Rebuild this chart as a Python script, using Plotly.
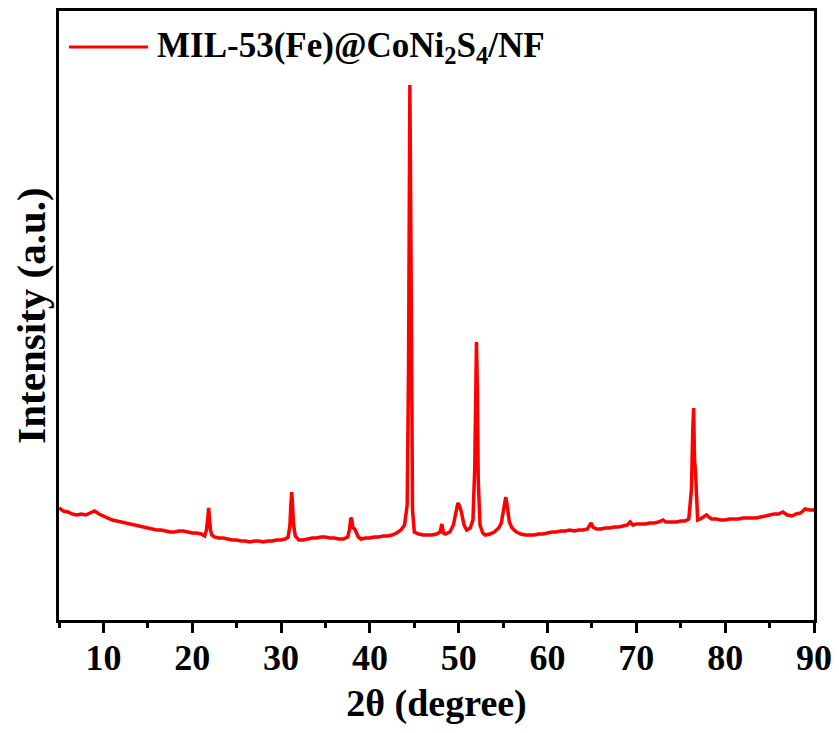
import plotly.graph_objects as go

two_theta = [
    5.0, 5.5, 6.0, 6.5, 7.0, 7.5, 8.0, 8.5, 9.0, 9.5, 10.0, 10.5, 11.0, 11.5, 12.0, 12.5,
    13.0, 13.5, 14.0, 14.5, 15.0, 15.5, 16.0, 16.5, 17.0, 17.5, 18.0, 18.5, 19.0, 19.5,
    20.0, 20.5, 21.0, 21.4, 21.6, 21.75, 21.85, 21.95, 22.05, 22.2, 22.5, 23.0, 23.5,
    24.0, 24.5, 25.0, 25.5, 26.0, 26.5, 27.0, 27.5, 28.0, 28.5, 29.0, 29.5, 30.0, 30.5,
    30.8, 31.0, 31.1, 31.2, 31.3, 31.4, 31.6, 32.0, 32.5, 33.0, 33.5, 34.0, 34.5, 35.0,
    35.5, 36.0, 36.5, 37.0, 37.5, 37.7, 37.85, 37.95, 38.1, 38.3, 38.45, 38.7, 39.0, 39.5,
    40.0, 40.5, 41.0, 41.5, 42.0, 42.5, 43.0, 43.5, 43.9, 44.2, 44.35, 44.45, 44.5, 44.55,
    44.65, 44.8, 45.0, 45.5, 46.0, 46.5, 47.0, 47.5, 47.9, 48.1, 48.3, 48.5, 49.0, 49.4,
    49.7, 49.9, 50.1, 50.3, 50.6, 50.9, 51.3, 51.6, 51.8, 51.9, 52.0, 52.1, 52.2, 52.4,
    52.7, 53.0, 53.5, 54.0, 54.5, 54.8, 55.0, 55.2, 55.3, 55.45, 55.7, 56.0, 56.5, 57.0,
    57.5, 58.0, 58.5, 59.0, 59.5, 60.0, 60.5, 61.0, 61.5, 62.0, 62.5, 63.0, 63.5, 64.0,
    64.5, 64.9, 65.1, 65.5, 66.0, 66.5, 67.0, 67.5, 68.0, 68.5, 69.0, 69.3, 69.6, 70.0,
    70.5, 71.0, 71.5, 72.0, 72.5, 73.0, 73.3, 73.5, 74.0, 74.5, 75.0, 75.5, 75.9, 76.2,
    76.35, 76.45, 76.55, 76.65, 76.75, 76.9, 77.2, 77.5, 77.9, 78.3, 78.5, 79.0, 79.5,
    80.0, 80.5, 81.0, 81.5, 82.0, 82.5, 83.0, 83.5, 84.0, 84.5, 85.0, 85.5, 86.0, 86.5,
    87.0, 87.5, 88.0, 88.5, 89.0, 89.5, 90.0,
]
intensity = [
    112, 109, 108, 106, 105, 106, 105, 107, 109, 106, 104, 102, 100, 99, 98, 97,
    96, 95, 94, 93, 92, 91, 90, 90, 89, 88, 88, 89, 89, 88,
    87, 87, 86, 84, 90, 102, 112, 100, 90, 85, 83, 82, 82,
    81, 80, 80, 79, 79, 78, 79, 79, 78, 79, 79, 80, 80, 81,
    83, 95, 115, 128, 114, 96, 84, 80, 80, 81, 82, 82, 83, 83,
    82, 82, 81, 81, 83, 90, 102, 101, 92, 91, 88, 83, 81, 82,
    82, 83, 83, 84, 84, 85, 87, 90, 95, 115, 250, 480, 535, 480,
    260, 110, 88, 86, 85, 85, 85, 86, 88, 96, 87, 86, 88, 95,
    110, 117, 114, 108, 95, 90, 92, 100, 150, 240, 278, 230, 140, 95,
    87, 85, 86, 88, 92, 97, 108, 120, 123, 115, 98, 92, 88, 86,
    85, 85, 85, 86, 86, 87, 88, 88, 89, 89, 90, 89, 90, 90,
    91, 97, 93, 91, 91, 92, 92, 93, 93, 94, 95, 98, 95, 96,
    96, 96, 97, 97, 98, 100, 98, 98, 98, 98, 99, 99, 101, 130,
    190, 212, 160, 150, 130, 100, 101, 103, 105, 102, 101, 101, 100,
    100, 101, 101, 101, 102, 102, 102, 102, 103, 104, 105, 106, 106, 108,
    105, 104, 106, 107, 111, 110, 110,
]

x_ticks = [10, 20, 30, 40, 50, 60, 70, 80, 90]
series_name = "MIL-53(Fe)@CoNi<sub>2</sub>S<sub>4</sub>/NF"

FONT = "Liberation Serif"

fig = go.Figure()
fig.add_trace(go.Scatter(
    x=two_theta, y=intensity, mode="lines", name=series_name,
    line=dict(color="#ff0000", width=3.5), showlegend=False,
))

# page body has an 8px margin, so the figure is sized to fit inside the window
fig.update_layout(
    width=831, height=717,
    margin=dict(l=51, r=25, t=3, b=105),
    paper_bgcolor="white", plot_bgcolor="white",
    font=dict(family=FONT, color="black"),
)
fig.update_xaxes(
    range=[5, 90], tickvals=x_ticks, ticks="outside", ticklen=10, tickwidth=3,
    tickcolor="black", showline=True, linewidth=3, linecolor="black", mirror=True,
    showgrid=False, zeroline=False, automargin=False, ticklabeloverflow="allow",
    ticklabelstandoff=-6,
    tickfont=dict(family=FONT, size=36, color="black", weight="bold"),
    minor=dict(dtick=5, tick0=5, ticks="outside", ticklen=5, tickwidth=3, tickcolor="black", showgrid=False),
    title=dict(text="2θ (degree)", font=dict(family=FONT, size=38, color="black", weight="bold"), standoff=19),
)
fig.update_yaxes(
    range=[0, 609], showticklabels=False, ticks="", showline=True, linewidth=3,
    linecolor="black", mirror=True, showgrid=False, zeroline=False, automargin=False,
    title=dict(text="Intensity (a.u.)", font=dict(family=FONT, size=41, color="black", weight="bold"), standoff=1),
)

# legend drawn as line sample + label
fig.add_shape(type="line", xref="paper", yref="paper",
              x0=(69 - 59) / 755, x1=(148 - 59) / 755, y0=(620 - 47) / 609, y1=(620 - 47) / 609,
              line=dict(color="#ff0000", width=3))
fig.add_annotation(xref="paper", yref="paper", x=(155 - 59) / 755, y=(620 - 47) / 609,
                   xanchor="left", yanchor="middle", showarrow=False,
                   text=series_name,
                   font=dict(family=FONT, size=35, color="black", weight="bold"))

fig.write_html("out.html")
